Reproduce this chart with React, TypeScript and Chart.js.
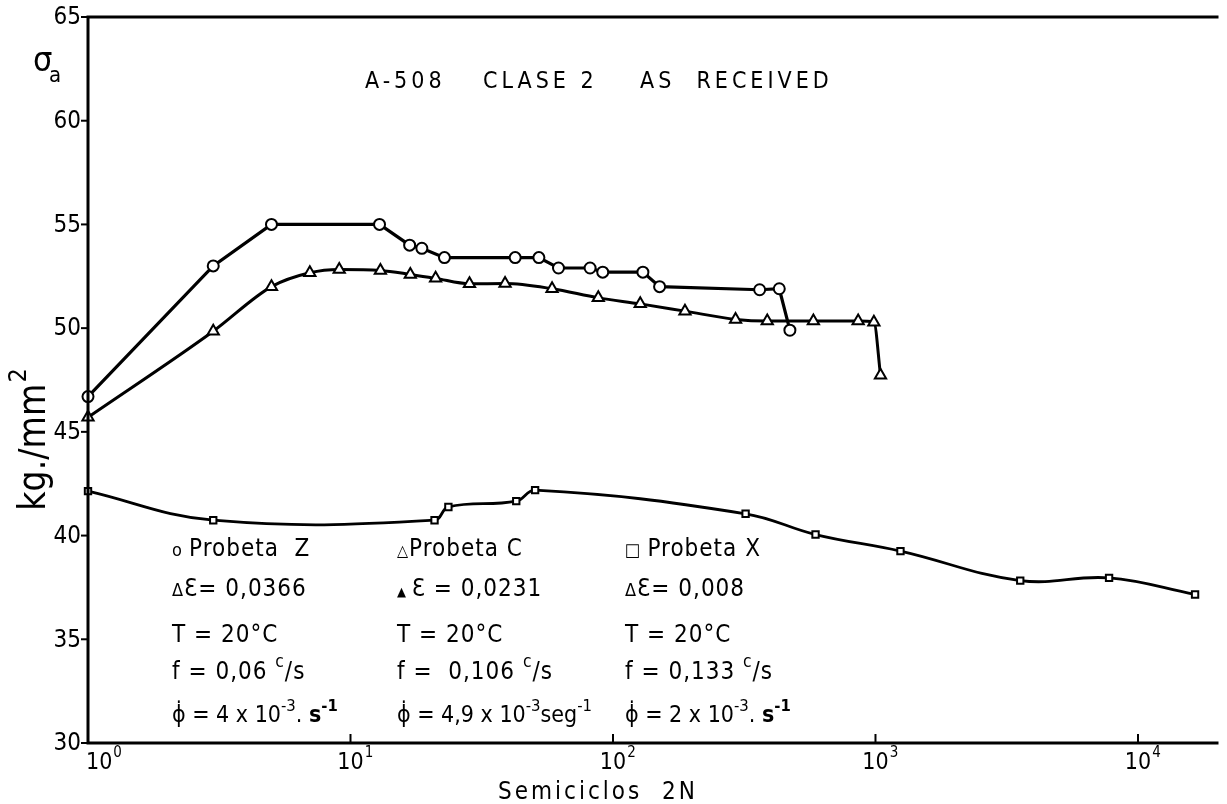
import { useEffect, useRef } from "react";
import { Chart, registerables } from "chart.js";
Chart.register(...registerables);

// Probeta Z (circles)
const zCycles = [1, 3.0, 5.0, 12.9, 16.8, 18.7, 22.8, 42.4, 52.2, 62, 81.8, 91.4, 130, 150.5, 362, 430, 472];
const zStress = [46.7, 53.0, 55.0, 55.0, 54.0, 53.85, 53.4, 53.4, 53.4, 52.9, 52.9, 52.7, 52.7, 52.0, 51.85, 51.9, 49.9];
// Probeta C (triangles)
const cCycles = [1, 3.0, 5.0, 7.0, 9.06, 13.0, 16.9, 21.1, 28.4, 38.8, 58.6, 87.9, 127, 188, 293, 387, 580, 859, 986, 1045];
const cStress = [45.7, 49.85, 52.0, 52.67, 52.83, 52.78, 52.59, 52.4, 52.14, 52.15, 51.9, 51.46, 51.17, 50.82, 50.42, 50.34, 50.34, 50.34, 50.29, 47.73];
// Probeta X (squares)
const xCycles = [1, 3.0, 20.9, 23.6, 42.8, 50.5, 320, 591, 1245, 3560, 7760, 16500];
const xStress = [42.14, 40.74, 40.74, 41.38, 41.66, 42.19, 41.05, 40.05, 39.25, 37.83, 37.96, 37.16];

const xTickValues = [1, 10, 100, 1000, 10000];
const xTickExponents = ["0", "1", "2", "3", "4"];
const yTickValues = [30, 35, 40, 45, 50, 55, 60, 65];

const FF = "'DejaVu Sans Condensed', 'DejaVu Sans', sans-serif";

type Part = { t: string; sup?: boolean; size?: number; bold?: boolean };

const legendCols: Part[][][] = [
  [
    [{ t: "o ", size: 18 }, { t: "Probeta  Z" }],
    [{ t: "Δ", size: 18 }, { t: "Ɛ= 0,0366" }],
    [{ t: "T = 20°C" }],
    [{ t: "f = 0,06 " }, { t: "c", sup: true }, { t: "/s" }],
    [{ t: "ϕ̇ = 4 x 10" }, { t: "-3", sup: true }, { t: ". " }, { t: "s", bold: true }, { t: "-1", sup: true, bold: true }],
  ],
  [
    [{ t: "△", size: 16 }, { t: "Probeta C" }],
    [{ t: "▲ ", size: 13 }, { t: "Ɛ = 0,0231" }],
    [{ t: "T = 20°C" }],
    [{ t: "f =  0,106 " }, { t: "c", sup: true }, { t: "/s" }],
    [{ t: "ϕ̇ = 4,9 x 10" }, { t: "-3", sup: true }, { t: "seg" }, { t: "-1", sup: true }],
  ],
  [
    [{ t: "□ ", size: 18 }, { t: "Probeta X" }],
    [{ t: "Δ", size: 18 }, { t: "Ɛ= 0,008" }],
    [{ t: "T = 20°C" }],
    [{ t: "f = 0,133 " }, { t: "c", sup: true }, { t: "/s" }],
    [{ t: "ϕ̇ = 2 x 10" }, { t: "-3", sup: true }, { t: ". " }, { t: "s", bold: true }, { t: "-1", sup: true, bold: true }],
  ],
];
const legendColX = [172, 397, 625];
const legendRowY = [556, 596, 642, 679, 722];

function drawParts(ctx: CanvasRenderingContext2D, x: number, y: number, parts: Part[], base: number) {
  let cx = x;
  for (const p of parts) {
    const size = p.size ?? (p.sup ? base * 0.72 : base);
    ctx.font = `${p.bold ? "bold " : ""}${size}px ${FF}`;
    const yy = y - (p.sup ? base * 0.5 : 0);
    ctx.fillText(p.t, cx, yy);
    cx += ctx.measureText(p.t).width;
  }
}

const annotPlugin = {
  id: "annot",
  afterDraw(chart: any) {
    const ctx: CanvasRenderingContext2D = chart.ctx;
    const { left, right, top, bottom } = chart.chartArea;
    const xs = chart.scales.x;
    const ys = chart.scales.y;
    ctx.save();
    ctx.strokeStyle = "#000";
    ctx.fillStyle = "#000";
    ctx.lineWidth = 3;
    ctx.lineCap = "square";
    ctx.beginPath();
    ctx.moveTo(right, top);
    ctx.lineTo(left, top);
    ctx.lineTo(left, bottom);
    ctx.lineTo(right, bottom);
    ctx.stroke();

    // y ticks
    ctx.lineWidth = 2;
    ctx.lineCap = "butt";
    ctx.textAlign = "right";
    ctx.textBaseline = "middle";
    ctx.font = `24px ${FF}`;
    for (const v of yTickValues) {
      const py = ys.getPixelForValue(v);
      ctx.beginPath();
      ctx.moveTo(left - 7, py);
      ctx.lineTo(left, py);
      ctx.stroke();
      ctx.fillText(String(v), left - 7, py + 1);
    }

    // x ticks (inward) and labels
    ctx.textAlign = "left";
    ctx.textBaseline = "alphabetic";
    xTickValues.forEach((v, i) => {
      const px = xs.getPixelForValue(v);
      ctx.beginPath();
      ctx.moveTo(px, bottom);
      ctx.lineTo(px, bottom - 9);
      ctx.stroke();
      ctx.font = `23px ${FF}`;
      const w = ctx.measureText("10").width;
      const lx = i === 0 ? px - 2 : px - w / 2;
      ctx.fillText("10", lx, bottom + 26);
      ctx.font = `15px ${FF}`;
      ctx.fillText(xTickExponents[i], lx + w + 1, bottom + 14);
    });

    // x axis title
    ctx.font = `24px ${FF}`;
    (ctx as any).letterSpacing = "3px";
    ctx.textAlign = "center";
    ctx.fillText("Semiciclos  2N", 598, 799);

    // title
    ctx.textAlign = "left";
    ctx.font = `23px ${FF}`;
    (ctx as any).letterSpacing = "4px";
    ctx.fillText("A-508", 365, 88);
    ctx.fillText("CLASE 2", 483, 88);
    ctx.fillText("AS  RECEIVED", 640, 88);
    (ctx as any).letterSpacing = "0px";

    // sigma_a
    ctx.font = `34px ${FF}`;
    ctx.fillText("σ", 33, 71);
    ctx.font = `22px ${FF}`;
    ctx.fillText("a", 49, 82);

    // y axis title (rotated)
    ctx.save();
    ctx.translate(45, 440);
    ctx.rotate(-Math.PI / 2);
    ctx.font = `37px ${FF}`;
    const main = "kg./mm";
    const mw = ctx.measureText(main).width;
    ctx.font = `25px ${FF}`;
    const sw = ctx.measureText("2").width;
    const total = mw + sw;
    ctx.font = `37px ${FF}`;
    ctx.fillText(main, -total / 2, 0);
    ctx.font = `25px ${FF}`;
    ctx.fillText("2", -total / 2 + mw + 1, -19);
    ctx.restore();

    // legend block
    ctx.textAlign = "left";
    legendCols.forEach((col, ci) => {
      col.forEach((row, ri) => {
        (ctx as any).letterSpacing = ri === 4 ? "0px" : "1px";
        drawParts(ctx, legendColX[ci], legendRowY[ri], row, ri === 4 ? 23 : 24);
      });
    });
    (ctx as any).letterSpacing = "0px";
    ctx.restore();
  },
};

function mk(xs: number[], ys: number[]) {
  return xs.map((x, i) => ({ x, y: ys[i] }));
}

export default function App() {
  const ref = useRef<HTMLCanvasElement | null>(null);
  useEffect(() => {
    if (!ref.current) return;
    const common = {
      borderColor: "#000",
      pointBackgroundColor: "#fff",
      pointBorderColor: "#000",
      pointBorderWidth: 2,
      fill: false,
      clip: false as any,
    };
    const chart = new Chart(ref.current, {
      type: "line",
      data: {
        datasets: [
          {
            ...common,
            label: "Probeta Z",
            data: mk(zCycles, zStress),
            borderWidth: 3.2,
            pointStyle: "circle",
            pointRadius: 5.5,
            tension: 0,
          },
          {
            ...common,
            label: "Probeta C",
            data: mk(cCycles, cStress),
            borderWidth: 3,
            pointStyle: "triangle",
            pointRadius: 6.5,
            cubicInterpolationMode: "monotone",
          },
          {
            ...common,
            label: "Probeta X",
            data: mk(xCycles, xStress),
            borderWidth: 2.8,
            pointStyle: "rect",
            pointRadius: 4.5,
            tension: 0.4,
          },
        ],
      },
      options: {
        animation: false,
        responsive: false,
        devicePixelRatio: 1,
        layout: { padding: { top: 17, right: 10, left: 0, bottom: 0 } },
        plugins: { legend: { display: false }, tooltip: { enabled: false }, title: { display: false } },
        scales: {
          x: {
            type: "logarithmic",
            min: 1,
            max: 20000,
            grid: { display: false },
            border: { display: false },
            ticks: { display: false },
            afterFit: (s: any) => {
              s.height = 61;
            },
          },
          y: {
            type: "linear",
            min: 30,
            max: 65,
            grid: { display: false },
            border: { display: false },
            ticks: { display: false, stepSize: 5 },
            afterFit: (s: any) => {
              s.width = 88;
            },
          },
        },
      },
      plugins: [annotPlugin],
    } as any);
    return () => chart.destroy();
  }, []);
  return (
    <div style={{ position: "absolute", left: 0, top: 0, width: 1227, height: 804, background: "#fff" }}>
      <canvas ref={ref} width={1227} height={804} />
    </div>
  );
}
